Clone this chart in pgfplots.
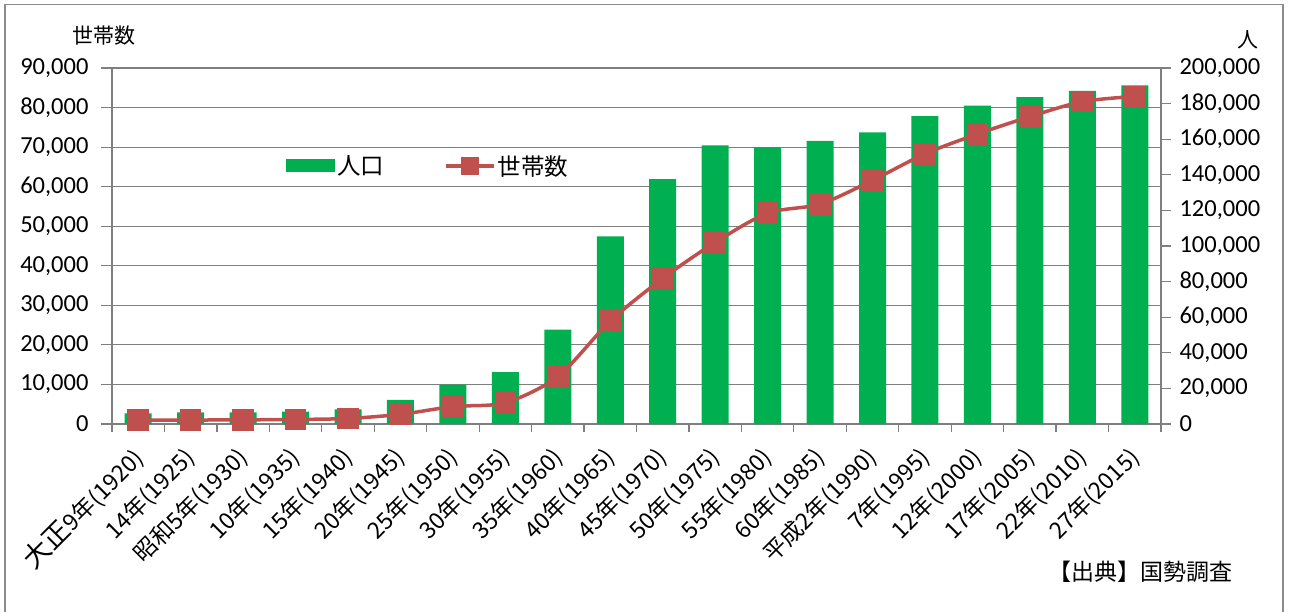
\documentclass[border=0pt]{standalone}
\usepackage{fontspec}
\setmainfont{Carlito}
\newfontfamily\jp{Noto Sans CJK JP}
\usepackage{pgfplots}
\pgfplotsset{compat=1.18}

\definecolor{barcolor}{HTML}{00B050}
\definecolor{linered}{HTML}{C0504D}
\definecolor{gridgray}{HTML}{7F7F7F}
\definecolor{framegray}{HTML}{8C8C8C}

% shared frame of the three overlaid axes
\pgfplotsset{
  base/.style={
    scale only axis, width=1049pt, height=356pt,
    at={(112pt,187pt)}, anchor=south west,
    xmin=-0.5, xmax=19.5, ymin=0,
    tick align=outside,
    scaled y ticks=false,
    /pgf/number format/fixed,
    /pgf/number format/1000 sep={,},
    /pgf/number format/assume math mode=true,
    yticklabel style={font=\fontsize{24.5}{28}\selectfont, text=black},
  }
}

\begin{document}
\begin{tikzpicture}
\useasboundingbox (0,0) rectangle (1292pt,611pt);
\fill[white] (0,0) rectangle (1292pt,611pt);
\draw[framegray, line width=1.5pt] (5pt,-3pt) -- (5pt,606.5pt) -- (1283pt,606.5pt) -- (1283pt,-3pt);

% left scale: grid, left ticks, categories
\begin{axis}[base,
  ymax=90000, ytick={0,10000,...,90000},
  ymajorgrids, grid style={gridgray, line width=1.2pt},
  axis line style={gridgray, line width=1.2pt},
  tick style={gridgray, line width=1.2pt},
  tick pos=left,
  major tick length=11pt,
  yticklabel style={xshift=-9pt},
  xtick={0,...,19},
  xticklabels={{\fontsize{27}{30}\selectfont 大正}9年(1920), 14年(1925), 昭和5年(1930), 10年(1935), 15年(1940),
    20年(1945), 25年(1950), 30年(1955), 35年(1960), 40年(1965), 45年(1970),
    50年(1975), 55年(1980), 60年(1985), 平成2年(1990), 7年(1995), 12年(2000),
    17年(2005), 22年(2010), 27年(2015)},
  major x tick style={draw=none},
  minor xtick={-0.5,0.5,...,19.5},
  minor tick length=8pt,
  minor x tick style={gridgray, line width=1.2pt},
  xticklabel style={font=\jp\fontsize{23}{26}\selectfont, text=black,
    xshift=3pt, yshift=-16pt, rotate=45, anchor=east},
]
\end{axis}

% right scale: population bars
\begin{axis}[base,
  ymax=200000, ytick={0,20000,...,200000},
  axis y line*=right, axis x line=none,
  axis line style={gridgray, line width=1.2pt},
  tick style={gridgray, line width=1.2pt},
  major tick length=10pt,
  yticklabel style={xshift=5pt},
  ybar, bar width=27pt,
]
\addplot[fill=barcolor, draw=none] coordinates {
  (0,6000) (1,6500) (2,6600) (3,6900) (4,8200) (5,13500) (6,22100)
  (7,29200) (8,53000) (9,105400) (10,137600) (11,156600) (12,155400)
  (13,159000) (14,163900) (15,173000) (16,178800) (17,183700)
  (18,187100) (19,190300)
};
\end{axis}

% left scale: households line, with the legend
\begin{axis}[base,
  ymax=90000, hide axis, clip=false,
  legend style={at={(0.166,0.725)}, anchor=west, draw=none, fill=none,
    font=\jp\fontsize{23.5}{27}\selectfont, legend columns=-1,
    inner sep=0pt},
  /tikz/every even column/.append style={column sep=58pt},
]
\addlegendimage{fill=barcolor, draw=none,
  legend image code/.code={\fill[barcolor] (0pt,-6.5pt) rectangle (49pt,6.5pt);}}
\addlegendentry{人口}
\addplot[color=linered, line width=3.5pt, smooth,
  mark=square*, mark size=9pt, mark options={fill=linered, draw=none},
  legend image code/.code={
    \draw[linered, line width=3.5pt] (0pt,0pt) -- (48pt,0pt);
    \fill[linered] (16.5pt,-7.5pt) rectangle (31.5pt,7.5pt);}
] coordinates {
  (0,1000) (1,1000) (2,1050) (3,1150) (4,1400) (5,2450) (6,4400)
  (7,5400) (8,12000) (9,26000) (10,36800) (11,45900) (12,53300)
  (13,55600) (14,61600) (15,68300) (16,73300) (17,77700)
  (18,81500) (19,82800)
};
\addlegendentry{世帯数}
\end{axis}

\node[font=\jp\fontsize{21}{24}\selectfont] at (103.5pt,575pt) {世帯数};
\node[font=\jp\fontsize{21}{24}\selectfont] at (1248pt,571pt) {人};
\node[font=\jp\fontsize{23}{26}\selectfont] at (1140pt,39pt) {【出典】国勢調査};
\end{tikzpicture}
\end{document}
